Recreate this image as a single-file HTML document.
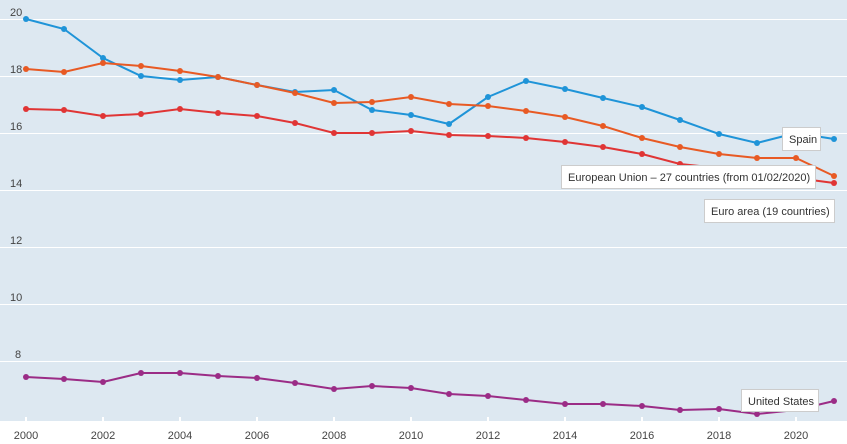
<!DOCTYPE html><html><head><style>body{margin:0;background:#fff}svg{display:block;font-family:"Liberation Sans",sans-serif}</style></head><body>
<svg width="847" height="444" viewBox="0 0 847 444">
<rect x="0" y="0" width="847" height="421" fill="#dde8f1"/>
<g stroke="#fff" stroke-width="1">
<line x1="0" x2="847" y1="19.5" y2="19.5"/><line x1="0" x2="847" y1="76.5" y2="76.5"/><line x1="0" x2="847" y1="133.5" y2="133.5"/><line x1="0" x2="847" y1="190.5" y2="190.5"/><line x1="0" x2="847" y1="247.5" y2="247.5"/><line x1="0" x2="847" y1="304.5" y2="304.5"/><line x1="0" x2="847" y1="361.5" y2="361.5"/>
</g>
<g fill="#444" font-size="11">
<text x="10" y="16">20</text><text x="10" y="73">18</text><text x="10" y="130">16</text><text x="10" y="187">14</text><text x="10" y="244">12</text><text x="10" y="301">10</text><text x="15" y="358">8</text>
</g>
<g stroke="#fff" stroke-width="2"><line x1="26" x2="26" y1="417" y2="421"/><line x1="103" x2="103" y1="417" y2="421"/><line x1="180" x2="180" y1="417" y2="421"/><line x1="257" x2="257" y1="417" y2="421"/><line x1="334" x2="334" y1="417" y2="421"/><line x1="411" x2="411" y1="417" y2="421"/><line x1="488" x2="488" y1="417" y2="421"/><line x1="565" x2="565" y1="417" y2="421"/><line x1="642" x2="642" y1="417" y2="421"/><line x1="719" x2="719" y1="417" y2="421"/><line x1="796" x2="796" y1="417" y2="421"/></g>
<g fill="#444" font-size="11" text-anchor="middle">
<text x="26" y="439">2000</text><text x="103" y="439">2002</text><text x="180" y="439">2004</text><text x="257" y="439">2006</text><text x="334" y="439">2008</text><text x="411" y="439">2010</text><text x="488" y="439">2012</text><text x="565" y="439">2014</text><text x="642" y="439">2016</text><text x="719" y="439">2018</text><text x="796" y="439">2020</text>
</g>
<g fill="none" stroke-width="2">
<polyline stroke="#1f94d8" points="26,19 64,29 103,58 141,76 180,80 218,77 257,85 295,92 334,90 372,110 411,115 449,124 488,97 526,81 565,89 603,98 642,107 680,120 719,134 757,143 796,133 834,139"/>
<polyline stroke="#e85a24" points="26,69 64,72 103,63 141,66 180,71 218,77 257,85 295,93 334,103 372,102 411,97 449,104 488,106 526,111 565,117 603,126 642,138 680,147 719,154 757,158 796,158 834,176"/>
<polyline stroke="#e03535" points="26,109 64,110 103,116 141,114 180,109 218,113 257,116 295,123 334,133 372,133 411,131 449,135 488,136 526,138 565,142 603,147 642,154 680,164 719,168 757,172 796,178 834,183"/>
<polyline stroke="#9b2c86" points="26,377 64,379 103,382 141,373 180,373 218,376 257,378 295,383 334,389 372,386 411,388 449,394 488,396 526,400 565,404 603,404 642,406 680,410 719,409 757,414 796,410 834,401"/>
</g>
<g fill="#1f94d8"><circle cx="26" cy="19" r="3"/><circle cx="64" cy="29" r="3"/><circle cx="103" cy="58" r="3"/><circle cx="141" cy="76" r="3"/><circle cx="180" cy="80" r="3"/><circle cx="218" cy="77" r="3"/><circle cx="257" cy="85" r="3"/><circle cx="295" cy="92" r="3"/><circle cx="334" cy="90" r="3"/><circle cx="372" cy="110" r="3"/><circle cx="411" cy="115" r="3"/><circle cx="449" cy="124" r="3"/><circle cx="488" cy="97" r="3"/><circle cx="526" cy="81" r="3"/><circle cx="565" cy="89" r="3"/><circle cx="603" cy="98" r="3"/><circle cx="642" cy="107" r="3"/><circle cx="680" cy="120" r="3"/><circle cx="719" cy="134" r="3"/><circle cx="757" cy="143" r="3"/><circle cx="796" cy="133" r="3"/><circle cx="834" cy="139" r="3"/></g>
<g fill="#e85a24"><circle cx="26" cy="69" r="3"/><circle cx="64" cy="72" r="3"/><circle cx="103" cy="63" r="3"/><circle cx="141" cy="66" r="3"/><circle cx="180" cy="71" r="3"/><circle cx="218" cy="77" r="3"/><circle cx="257" cy="85" r="3"/><circle cx="295" cy="93" r="3"/><circle cx="334" cy="103" r="3"/><circle cx="372" cy="102" r="3"/><circle cx="411" cy="97" r="3"/><circle cx="449" cy="104" r="3"/><circle cx="488" cy="106" r="3"/><circle cx="526" cy="111" r="3"/><circle cx="565" cy="117" r="3"/><circle cx="603" cy="126" r="3"/><circle cx="642" cy="138" r="3"/><circle cx="680" cy="147" r="3"/><circle cx="719" cy="154" r="3"/><circle cx="757" cy="158" r="3"/><circle cx="796" cy="158" r="3"/><circle cx="834" cy="176" r="3"/></g>
<g fill="#e03535"><circle cx="26" cy="109" r="3"/><circle cx="64" cy="110" r="3"/><circle cx="103" cy="116" r="3"/><circle cx="141" cy="114" r="3"/><circle cx="180" cy="109" r="3"/><circle cx="218" cy="113" r="3"/><circle cx="257" cy="116" r="3"/><circle cx="295" cy="123" r="3"/><circle cx="334" cy="133" r="3"/><circle cx="372" cy="133" r="3"/><circle cx="411" cy="131" r="3"/><circle cx="449" cy="135" r="3"/><circle cx="488" cy="136" r="3"/><circle cx="526" cy="138" r="3"/><circle cx="565" cy="142" r="3"/><circle cx="603" cy="147" r="3"/><circle cx="642" cy="154" r="3"/><circle cx="680" cy="164" r="3"/><circle cx="834" cy="183" r="3"/></g>
<g fill="#9b2c86"><circle cx="26" cy="377" r="3"/><circle cx="64" cy="379" r="3"/><circle cx="103" cy="382" r="3"/><circle cx="141" cy="373" r="3"/><circle cx="180" cy="373" r="3"/><circle cx="218" cy="376" r="3"/><circle cx="257" cy="378" r="3"/><circle cx="295" cy="383" r="3"/><circle cx="334" cy="389" r="3"/><circle cx="372" cy="386" r="3"/><circle cx="411" cy="388" r="3"/><circle cx="449" cy="394" r="3"/><circle cx="488" cy="396" r="3"/><circle cx="526" cy="400" r="3"/><circle cx="565" cy="404" r="3"/><circle cx="603" cy="404" r="3"/><circle cx="642" cy="406" r="3"/><circle cx="680" cy="410" r="3"/><circle cx="719" cy="409" r="3"/><circle cx="757" cy="414" r="3"/><circle cx="834" cy="401" r="3"/></g>
<g font-size="11" fill="#333">
<rect x="782.5" y="127.5" width="38" height="23" fill="#fff" stroke="#ccc"/><text x="789" y="143">Spain</text>
<rect x="561.5" y="165.5" width="254" height="23" fill="#fff" stroke="#ccc"/><text x="568" y="181">European Union – 27 countries (from 01/02/2020)</text>
<rect x="704.5" y="199.5" width="130" height="23" fill="#fff" stroke="#ccc"/><text x="711" y="215">Euro area (19 countries)</text>
<rect x="741.5" y="389.5" width="77" height="22" fill="#fff" stroke="#ccc"/><text x="748" y="405">United States</text>
</g>
</svg></body></html>
